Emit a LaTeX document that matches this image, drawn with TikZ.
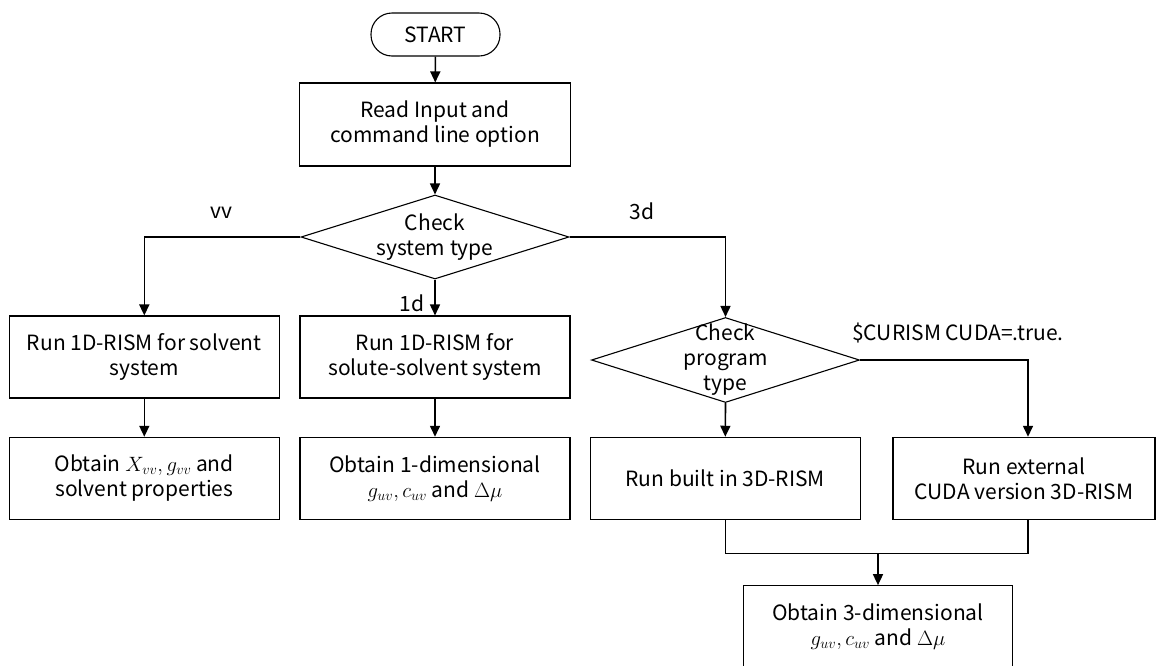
\documentclass[tikz,border=0pt]{standalone}
\usepackage{fontspec}
\setmainfont{Noto Sans CJK JP}
\usetikzlibrary{shapes.geometric,arrows.meta}
\begin{document}
\begin{tikzpicture}[x=1pt,y=-1pt,
  every node/.style={font=\fontsize{21}{25}\selectfont},
  box/.style={draw, line width=1.1pt, minimum width=270pt, minimum height=82pt, align=center, inner sep=0pt},
  term/.style={draw, line width=1.1pt, rounded corners=21pt, minimum width=129pt, minimum height=43pt, inner sep=0pt},
  dia/.style={draw, diamond, line width=1.1pt, minimum width=268pt, minimum height=84pt, inner sep=0pt},
  arr/.style={line width=1.6pt, -{Triangle[width=10pt,length=11pt]}},
  ln/.style={line width=1.6pt},
  lbl/.style={inner sep=0pt}]
\useasboundingbox (0,0) rectangle (1156,665);
\node[term] (start) at (435.5,34.5) {START};
\node[box, minimum width=271pt, minimum height=83pt] (read) at (435,124.5) {Read Input and\\command line option};
\node[dia, label={[align=center, font=\fontsize{21}{25}\selectfont]center:Check\\system type}] (d1) at (435,237) {};
\node[box] (b1) at (144.3,357) {Run 1D-RISM for solvent\\system};
\node[box] (b2) at (435,357) {Run 1D-RISM for\\solute-solvent system};
\node[dia, minimum height=85pt, label={[align=center, font=\fontsize{21}{25}\selectfont]center:Check\\program\\type}] (d2) at (725.5,360) {};
\node[box] (b3) at (144.3,478.3) {Obtain $X_{vv}, g_{vv}$ and\\solvent properties};
\node[box] (b4) at (435,478.3) {Obtain 1-dimensional\\$g_{uv}, c_{uv}$ and $\Delta\mu$};
\node[box] (b5) at (725.3,478.3) {Run built in 3D-RISM};
\node[box, minimum width=262pt] (b6) at (1024,478.3) {Run external\\CUDA version 3D-RISM};
\node[box, minimum width=269.4pt] (b7) at (878,626.7) {Obtain 3-dimensional\\$g_{uv}, c_{uv}$ and $\Delta\mu$};
\node[lbl] (lvv) at (221,213) {vv};
\node[lbl] (l3d) at (642,211) {3d};
\node[lbl] (l1d) at (412,303) {1d};
\node[lbl] (lcuda) at (958,333) {\$CURISM CUDA=.true.};
\coordinate (j) at (878,553.3);
\draw[arr] (start) -- (read);
\draw[arr] (read) -- (d1.north);
\draw[arr] (d1.west) -| (b1.north);
\draw[arr] (d1.east) -| (d2.north);
\draw[arr] (d1.south) -- (b2.north);
\draw[arr] (b1) -- (b3);
\draw[arr] (b2) -- (b4);
\draw[arr] (d2.south) -- (b5.north);
\draw[arr] (d2.east) -| ([xshift=4pt]b6.north);
\draw[ln] (b5.south) |- (j) -| ([xshift=4pt]b6.south);
\draw[arr] (j) -- (b7.north);
\end{tikzpicture}
\end{document}
